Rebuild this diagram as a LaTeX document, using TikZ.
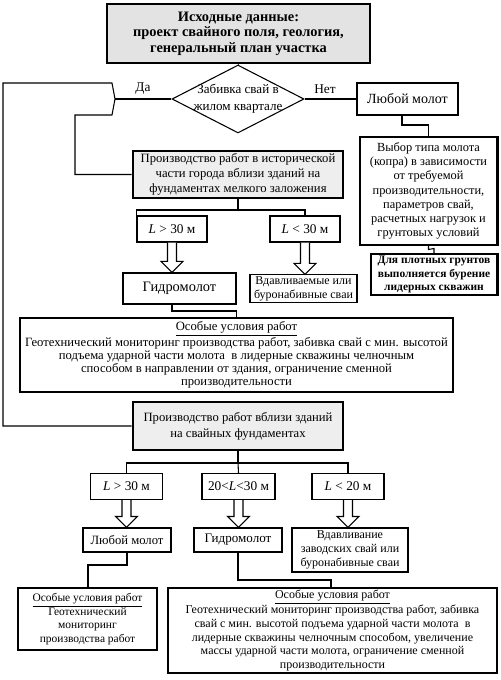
\documentclass[tikz,border=0pt]{standalone}
\usepackage{fontspec}
\setmainfont{Liberation Serif}
\usetikzlibrary{shapes.geometric,calc}
\tikzset{
  fs/.style 2 args={font=\fontsize{#1}{#2}\selectfont},
  txt/.style={fs={9}{10.5}, align=center},
  box/.style={txt, draw, line width=0.8pt, inner sep=1pt, fill=white},
  mainbox/.style={box, line width=2.2pt, fill=gray!13},
  sz/.style 2 args={minimum width=#1*0.75pt, minimum height=#2*0.75pt},
  link/.style={draw, line width=0.8pt},
  harrow/.style={draw, line width=0.8pt, fill=white, line join=miter},
  shade/.style={draw, line width=1.8pt},
}
\newcommand{\harr}[2]{%
  \path (#2.north -| #1.south) coordinate (tipc);
  \draw[harrow] ($(#1.south)+(-4.5,0)$) -- ($(tipc)+(-4.5,-11)$) -- ($(tipc)+(-11,-11)$) -- (tipc) -- ($(tipc)+(11,-11)$) -- ($(tipc)+(4.5,-11)$) -- ($(#1.south)+(4.5,0)$);}
\begin{document}
\begin{tikzpicture}[x=0.75pt,y=-0.75pt]
\useasboundingbox (0,0) rectangle (500,680);
% top
\node[mainbox, sz={263}{59}, fill=gray!22, font=\fontsize{10.8}{11.6}\selectfont\bfseries] (b1) at (238.5,33.5) {Исходные данные:\\проект свайного поля, геология,\\генеральный план участка};
\node[diamond, draw, line width=0.8pt, minimum width=132*0.75pt, minimum height=68*0.75pt, inner sep=0] (dia) at (238,99) {};
\node[txt, fs={9.8}{12.5}] (diat) at (dia) {Забивка свай в\\жилом квартале};
\draw[link] (b1.south) -- (dia.north);
\node[txt, fs={10}{12}] (da) at (143,89) {Да};
\node[txt, fs={10}{12}] (net) at (325,89) {Нет};
% right column
\node[box, sz={101}{32}, fs={10.5}{12}] (lm1) at (407.5,99) {Любой молот};
\draw[link] (dia.east) -- (lm1.west);
\node[box, sz={137}{108}, fs={9.3}{10.6}] (vyb) at (428.5,191) {Выбор типа молота\\(копра) в зависимости\\от требуемой\\производительности,\\параметров свай,\\расчетных нагрузок и\\грунтовых условий};
\draw[shade] (vyb.north east) -- (vyb.south east);
\coordinate (c1) at (402,125);
\draw[link] (lm1.south -| c1) -- (c1) -- (c1 -| vyb.north) -- (vyb.north);
\node[box, sz={126}{41}, font=\fontsize{8.6}{10.3}\selectfont\bfseries] (dlya) at (434,274.5) {Для плотных грунтов\\выполняется бурение\\лидерных скважин};
\draw[shade] (dlya.north east) -- (dlya.south east);
\draw[link] (vyb.south) -- ++(0,4) -- ($(dlya.north)+(0,-5)$) -- (dlya.north);
% Da branch
\node[mainbox, sz={210}{47}, fs={9.5}{11.5}] (b2) at (238,174.5) {Производство работ в исторической\\части города вблизи зданий на\\фундаментах мелкого заложения};
\node[mainbox, sz={210}{48}, fs={9.5}{12}] (b3) at (238,426) {Производство работ вблизи зданий\\на свайных фундаментах};
\coordinate (fork) at (115,99);
\draw[link] (dia.west) -- (fork);
\draw[link] (fork) -- (112,83) -- (3,83) |- (b3.west);
\draw[link] (fork) -- (112,115) -- (75,115) |- (b2.west);
% upper branch
\node[box, sz={70}{26}, fs={10}{12}] (l1) at (172,229) {\textit{L} > 30 м};
\node[box, sz={70}{26}, fs={10}{12}] (l2) at (305,229) {\textit{L} < 30 м};
\coordinate (j1) at (238,210);
\draw[link] (b2.south) -- (j1);
\draw[link] (l1.north west) -- (l1.north west |- j1) -- (l2.north |- j1) -- (l2.north);
\node[box, sz={113}{31}, fs={10.8}{12}] (g1) at (179.5,288.5) {Гидромолот};
\node[box, sz={107}{27}, fs={9}{10.5}] (v1) at (303.5,288.5) {Вдавливаемые или\\буронабивные сваи};
\harr{l1}{g1}
\harr{l2}{v1}
\node[box, sz={433}{74}, fs={9.5}{9.8}] (os1) at (236.5,355) {\underline{Особые условия работ}\\Геотехнический мониторинг производства работ, забивка свай с мин. высотой\\подъема ударной части молота \ в лидерные скважины челночным\\способом в направлении от здания, ограничение сменной\\производительности};
\coordinate (j2) at (172,311);
\draw[link] (j2 |- g1.south) -- (j2) -- (j2 -| os1.north) -- (os1.north);
% lower branch
\node[box, sz={72}{26}, fs={10}{12}] (m1) at (126.5,486.5) {\textit{L} > 30 м};
\node[box, sz={73}{26}, fs={10}{12}] (m2) at (238.5,486.5) {20<\textit{L}<30 м};
\node[box, sz={72}{26}, fs={10}{12}] (m3) at (348,486.5) {\textit{L} < 20 м};
\coordinate (j3) at (238,463);
\draw[link] (b3.south) -- (j3);
\draw[link] (m1.north) -- (m1.north |- j3) -- (m3.north |- j3) -- (m3.north);
\draw[link] (j3) -- (m2.north);
\node[box, sz={88}{24}, fs={9.5}{11}] (lm2) at (127,540) {Любой молот};
\node[box, sz={88}{24}, fs={9.8}{11}] (g2) at (238,540) {Гидромолот};
\node[box, sz={116}{44}, fs={9}{10.5}] (v2) at (350,550) {Вдавливание\\заводских свай или\\буронабивные сваи};
\harr{m1}{lm2}
\harr{m2}{g2}
\harr{m3}{v2}
\node[box, sz={139}{62}, fs={8.6}{10.2}] (os2) at (87.5,619) {\underline{Особые условия работ}\\Геотехнический\\мониторинг\\производства работ};
\node[box, sz={329}{85}, fs={9}{10.2}] (os3) at (332.5,630.5) {\underline{Особые условия работ}\\Геотехнический мониторинг производства работ, забивка\\свай с мин. высотой подъема ударной части молота \ в\\лидерные скважины челночным способом, увеличение\\массы ударной части молота, ограничение сменной\\производительности};
\coordinate (j4) at (88,565);
\draw[link] (lm2.south) -- (lm2.south |- j4) -- (j4) -- (os2.north -| j4);
\coordinate (j5) at (331,580);
\draw[link] (g2.south) -- (g2.south |- j5) -- (j5) -- (os3.north -| j5);
\end{tikzpicture}
\end{document}
